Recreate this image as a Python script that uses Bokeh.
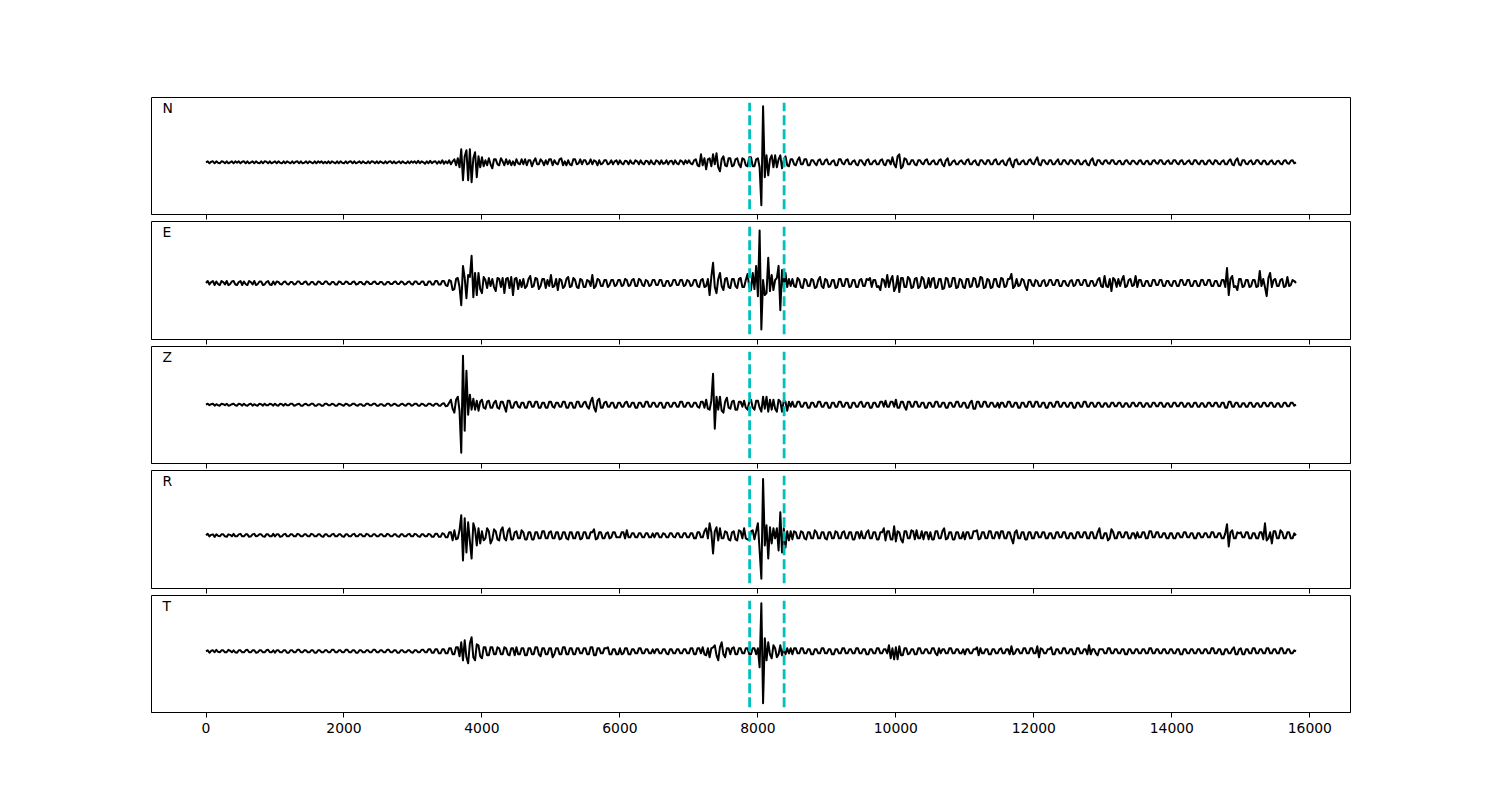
import numpy as np
from bokeh.plotting import figure
from bokeh.layouts import column
from bokeh.models import Range1d, FixedTicker, Label, CustomLabelingPolicy
from bokeh.embed import file_html
from bokeh.resources import INLINE

# ---------------- data ----------------
components = ["N", "E", "Z", "R", "T"]
sample_step = 25                     # time between samples
pick_times = [7880, 8380]            # dashed window markers
tick_values = [0, 2000, 4000, 6000, 8000, 10000, 12000, 14000, 16000]
tick_labels = ["0", "2000", "4000", "6000", "8000", "10000", "12000", "14000", "16000"]

# data limits of each panel (before the 5 % margin)
panel_ymin = [-46.9, -50.7, -53.5, -47.4, -55.9]
panel_ymax = [59.5, 55.7, 52.9, 59.0, 50.5]

# amplitudes, one row = 20 samples = 500 time units
trace_N = [
    0, 1, -1, 0.5, 1, -1, 1, -0.5, -1, 1, 0.5, -1, 1, -1, 0, 1, -1, 1, -0.5, 1,
    -1, 0.5, 1, -1, 1, -1, 0, 1, -1, 1, -0.5, -1, 1, -1, 1, 0.5, -1, 1, -1, 0,
    1, -1, 1, -0.5, -1, 1, -1, 1, 0, -1, 1, -1, 0.5, 1, -1, 1, -1, -0.5, 1, -1,
    1, 0, -1, 1, -1, 1, -0.5, 1, -1, 0.5, -1, 1, -1, 1, 0, -1, 1, -1, 1, -0.5,
    -1, 1, -1, 0.5, 1, -1, 1, -1, 0, 1, -1, 1, -0.5, -1, 1, -1, 1, 0.5, -1, 1,
    -1, 1, 0, -1, 1, -1, 0.5, 1, -1, 1, -1, 0, 1, -1, 1, -0.5, -1, 1, -1, 1,
    -0.5, 1, -1, 1.5, -1, 1, 0, -1.5, 1, -1, 1.5, -1, 0.5, 1, -1.5, 1, -1, 2, -1.5, 1,
    -1, 2, -2, 1, 3, -3, 4, -5, 13, -18, 6, 12, -18, 13, -20, 4, 10, -15, 6, -5,
    5, -4, 2, -3, 4, -2, -6, 3, 3, -2, -3, 4, 1, -3, 3, -2, 2, -3, 1, -3,
    3, -1, -2, 3, -2, 3, -3, 2, 2, -4, 1, 4, -2, -2, 3, 1, -3, 2, -2, 3,
    3, -3, 2, -1, -2, 3, 4, -3, 1, -3, 2, -2, -3, 3, 3, -2, -1, 3, -2, 2,
    2, -2, -1, 3, -2, 2, 1, -3, 2, -2, -1, 2, 2, -2, -1, 2, -2, 1, 2, -2,
    2, -1, -2, 1.5, 1, -2, 2, -1, -1.5, 2, 1, -2, 2, -1, -2, 1.5, 1, -2, 2, -1,
    -2, 2, 1, -2, 2, -1.5, -1, 2, -2, 1, 1.5, -2, 2, -1, -2, 2, 1, -2, 2, -1,
    2, -1, -2, 2, 3, -3, -4, 8, -3, 4, -7, 3, 4, -4, 8, -2, 9, -5, -9, 3,
    6, -3, -4, 4, 4, -4, -3, 3, 4, -2, -5, 4, 3, -3, -4, 5, 5, -4, -4, 3,
    4, -5, -43, 56, -15, 7, -13, 3, 7, -5, 7, -5, 3, 7, -6, 2, 6, -3, -4, 3,
    3, -2, -3, 2, 5, -2, -2, 3, 3, -3, -3, 2, 2, -1, -3, 2, 3, -2, -2, 2,
    3, -2, -2, 1, 2, -3, -3, 3, 3, -1, -2, 2, 3, -2, -2, 1, 2, -2, -3, 2,
    2, -1, -3, 2, 3, -2, -2, 1, 2, -2, -2, 2, 3, -2, -3, 2, 2, -2, 5, -2,
    -5, 6, 8, -6, -4, 4, 3, -2, -2, 2, 2, -2, -3, 2, 2, -1, -2, 2, 3, -2,
    -2, 1, 2, -2, -2, 2, 3, -2, -4, 2, 4, -3, -2, 1, 2, -2, -2, 1, 2, -1,
    -2, 2, 3, -2, -2, 1, 2, -2, -3, 2, 2, -1, -2, 2, 2, -2, -2, 2, 3, -2,
    -2, 1, 2, -2, -3, 2, 4, -2, -5, 2, 3, -2, -2, 1, 2, -2, -2, 2, 3, -1,
    -2, 2, 5, -2, -3, 2, 2, -1, -2, 2, 2, -2, -2, 1, 3, -2, -2, 2, 2, -1,
    -2, 2, 2, -1, -2, 2, 2, -2, -2, 1, 2, -2, -3, 2, 4, -2, -3, 2, 2, -1,
    -2, 1.5, 2, -1, -1.5, 2, 2, -1.5, -2, 1, 1.5, -2, -2, 1.5, 2, -1, -2, 1.5, 1.5, -1,
    -2, 1.5, 2, -1.5, -2, 1, 1.5, -2, -2, 1.5, 2, -1, -1.5, 2, 2, -1.5, -2, 1, 2, -1.5,
    -1.5, 2, 2, -1, -2, 1.5, 2, -2, -1.5, 1, 2, -1.5, -2, 2, 2, -1, -2, 1.5, 1.5, -2,
    -2, 1.5, 2, -1, -2, 2, 1.5, -1.5, -2, 1, 2, -2, -2, 1.5, 3, -2, -3, 2, 4, -2,
    -3, 2, 2, -1.5, -2, 1, 2, -2, -1.5, 2, 2, -1, -2, 1.5, 1.5, -2, -2, 1, 2, -1.5,
    -2, 1, 1.5, -1.5, -2, 1.5, 2, -1, -1.5, 1.5, 2, -1, 0,
]

trace_E = [
    0, 2, -1.5, 1, 2, -2, 1.5, -1, -2, 2, 1, -1.5, 2, -2, -1, 1.5, 2, -1.5, -2, 1,
    2, -2, 1.5, -1, -2, 2, 1, -1.5, 2, -2, -1, 1.5, 1.5, -2, -1.5, 1, 2, -1.5, -2, 1.5,
    -1.5, 1.5, 1, -1, -1.5, 1, 1.5, -1, -1.5, 1, 1, -1.5, -1, 1.5, 1.5, -1, -1, 1, 1.5, -1.5,
    -1.5, 1, 1, -1.5, -1.5, 1.5, 1, -1, -1, 1.5, 1.5, -1, -1.5, 1, 1, -1.5, -1.5, 1.5, 1, -1,
    -1, 1.5, 1, -1, -1, 1, 1.5, -1.5, -1, 1, 1, -1, -1.5, 1.5, 1, -1, -1, 1, 1.5, -1,
    -1, 1, 1, -1.5, -1.5, 1, 1, -1, -1, 1, 1.5, -1, -1, 1.5, 1, -1.5, -1, 1, 1.5, -1,
    -1.5, 1.5, 1.5, -1, -1, 1.5, 1.5, -2, -2, 1.5, 1.5, -1.5, -1.5, 2, 2, -1.5, -1.5, 2, 2, -2,
    -3, 3, 2, -7, -6, 4, 5, -4, -22, 17, 5, -15, 8, 6, 27, -14, 10, -12, 10, -6,
    -10, 6, 3, -5, 5, -3, 4, -4, -8, 5, 4, -4, 5, -10, 4, 5, -5, 6, -12, 4,
    5, -6, 3, -4, 4, -5, -3, 4, 7, -4, -3, 5, 4, -6, -3, 4, 4, -5, 3, -3,
    8, -4, -3, 4, -7, 4, 3, -5, -3, 4, 6, -4, -3, 5, 3, -4, -5, 4, 3, -4,
    -4, 3, 2, -3, 8, -5, -3, 4, 3, -3, -3, 3, 3, -4, -2, 3, 3, -3, -2, 3,
    3, -3, -2, 4, 3, -3, -2, 3, 4, -3, -3, 4, 3, -2, -3, 3, 2, -3, -2, 3,
    3, -2, -2, 3, 3, -3, -3, 2, 2, -3, -2, 3, 3, -2, -2, 3, 3, -3, -2, 3,
    2, -3, -2, 3, 3, -3, -4, 3, 4, -4, -3, 4, -12, 6, 20, -4, -10, 4, 10, -3,
    -7, 4, 5, -4, -5, 4, 4, -3, -5, 4, 5, -4, -4, 3, 9, -4, -7, 10, -6, 17,
    -13, 52, -46, 3, -12, -10, 25, -8, 8, -7, 3, 5, 17, -27, 13, -5, 10, -4, 4, -3,
    4, -3, -4, 5, 3, -4, -5, 4, 3, -3, -3, 4, 3, -5, -4, 3, 6, -3, -5, 4,
    3, -4, -3, 3, 3, -5, -4, 4, 4, -3, -3, 4, 4, -4, -3, 3, 3, -4, -4, 3,
    4, -3, -3, 4, 3, 5, -4, 3, 3, -4, -3, -7, 4, 3, -4, 8, -4, 3, 7, -8,
    -4, 7, -9, 5, 5, -4, -4, 6, 4, -5, -4, 4, 5, -5, -3, 6, 4, -5, -4, 5,
    -4, 4, 5, -5, -4, 4, 4, -6, -5, 5, 4, -4, -3, 5, 5, -5, -4, 4, 3, -4,
    -5, 4, 4, -4, -3, 5, 4, -4, -3, 6, 5, -5, -4, 4, 3, -5, -4, 4, 4, -3,
    -4, 5, 4, -4, -3, 4, 4, 9, -5, -3, 4, -3, -2, 4, 3, -3, -7, 3, 3, -2,
    -3, 3, 2, -3, -3, 2, 3, -3, -2, 3, 3, -2, -2, 3, 3, -3, -3, 2, 2, -2,
    -3, 2, 3, -3, -2, 3, 3, -2, -2, 3, 3, -3, -3, 2, 2, -3, -2, 3, 5, -3,
    -4, 7, -3, -4, 4, -8, 5, 3, -4, 4, -3, 3, 7, -4, -3, 3, 4, -3, -2, 7,
    -4, 3, 3, -3, -3, 2, 2, -3, -3, 3, 3, -2, -2, 3, 3, -3, -3, 2, 2, -2,
    -3, 2, 2, -3, -3, 3, 3, -2, -2, 3, 3, -3, -3, 2, 2, -3, -3, 3, 3, -2,
    -2, 3, 3, -3, -3, 2, 2, -3, -3, 3, 3, -4, 15, -12, 4, 7, -4, -3, -7, 4,
    4, -4, -3, 3, 3, -4, -3, 3, 3, -4, -3, 12, -3, 4, -4, -13, 5, 10, -4, 3,
    4, -3, -3, 3, 4, -4, -3, 6, -3, -2, 3, 2, 0,
]

trace_Z = [
    0, 1, -0.5, 0.5, 1, -1, 0.5, -0.5, -1, 1, 0.5, -0.5, 1, -1, -0.5, 0.5, 1, -0.5, -1, 1,
    0.5, -1, 1, -0.5, -1, 0.5, 1, -1, 0.5, -0.5, -1, 1, 0.5, -1, 1, -0.5, -0.5, 1, 0.5, -1,
    1, -0.5, -1, 1, 0.5, -1, 1, -0.5, -0.5, 1, 1, -1, -0.5, 0.5, 1, -1, -1, 0.5, 1, -0.5,
    -0.5, 1, 1, -1, -1, 0.5, 0.5, -1, -1, 1, 1, -0.5, -0.5, 1, 0.5, -1, -1, 1, 0.5, -0.5,
    -1, 1, 0.5, -1, -0.5, 1, 1, -0.5, -1, 0.5, 0.5, -1, -1, 1, 1, -0.5, -0.5, 1, 1, -1,
    -1, 0.5, 0.5, -1, -1, 1, 1, -1, -0.5, 1, 0.5, -1, -1, 0.5, 1, -0.5, -1, 1, 1, -1,
    -0.5, 1, 1, -1, -1, 1, 0.5, -1, -1, 1, 1, -0.5, -1, 1, 1, -1, -1, 1, 1.5, -1.5,
    -1, 2, 5, -4, -8, 5, 8, -6, -48, 49, -26, 34, -10, 10, -5, 6, -5, 4, -6, 3,
    5, -3, -4, 3, 4, -3, -3, 2, 4, -3, -4, 3, 3, -2, -7, 4, 4, -3, -3, 2,
    3, -2, -3, 2, 2, -3, -3, 3, 3, -2, -2, 3, 3, -3, -3, 2, 2, -3, -3, 3,
    3, -2, -3, 2, 2, -2, -2, 3, 3, -3, -3, 2, 2, -3, -3, 3, 3, -2, -2, 2,
    3, -2, -4, 3, 7, -3, -7, 4, 6, -3, -3, 2, 3, -2, -2, 2, 2, -3, -3, 2,
    2, -2, -2, 2, 3, -2, -2, 2, 2, -3, -3, 2, 2, -2, -2, 3, 3, -2, -2, 2,
    2, -2, -2, 2, 2, -3, -3, 2, 2, -2, -2, 2, 2, -2, -2, 3, 3, -2, -2, 2,
    2, -2, -2, 2, 2, -2, -3, 3, 3, -3, 5, -4, -5, 4, 31, -24, 8, -5, 8, -6,
    -8, 3, 7, -3, -4, 3, 4, -5, -5, 3, 3, -2, 4, -3, -5, 3, 5, -3, -5, 4,
    4, -3, -7, 8, -4, 8, -7, 5, -5, 5, -4, -7, 5, 3, -7, 4, 3, -6, 3, -2,
    3, -2, -2, 3, 3, -2, -2, 2, 2, -3, -3, 2, 2, -2, -2, 3, 3, -2, -2, 2,
    2, -3, -3, 2, 2, -2, -2, 3, 3, -2, -2, 2, 2, -3, -3, 2, 2, -2, -2, 2,
    3, -2, -2, 2, 2, -3, -3, 2, 2, -2, -2, 3, 3, -2, 4, -2, -2, 3, 3, -2,
    5, -3, -3, 3, 3, -2, -5, 3, 3, -2, -2, 3, 3, -2, -2, 2, 2, -3, -3, 2,
    2, -2, -2, 3, 3, -2, -2, 2, 2, -3, -3, 2, 2, -2, -2, 3, 3, -2, -2, 2,
    2, -3, -3, 2, 4, -4, -4, 3, 3, -2, -2, 3, 3, -2, -2, 2, 2, -2, -2, 2,
    -3, 2, 2, -2, -2, 3, 3, -2, -2, 2, 2, -3, -3, 2, 2, -2, -2, 3, 3, -2,
    -2, 3, 3, -2, -2, 2, 2, -3, -3, 2, 2, -2, -2, 3, 3, -2, -2, 2, 2, -2,
    -2, 2, 2, -3, -3, 2, 2, -2, -2, 3, 3, -2, -2, 2, 2, -2, -2, 2, 2, -2,
    -2, 1.5, 1.5, -2, -2, 2, 2, -1.5, -1.5, 2, 2, -2, -2, 1.5, 1.5, -2, -2, 2, 2, -1.5,
    -1.5, 2, 2, -2, -2, 1.5, 1.5, -2, -2, 2, 2, -1.5, -1.5, 2, 2, -2, -2, 1.5, 1.5, -2,
    -2, 2, 2, -1.5, -1.5, 2, 2, -2, -2, 1.5, 1.5, -2, -2, 2, 2, -2, -2, 1.5, 1.5, -2,
    -2, 2, 2, -1.5, -1.5, 2, 2, -2, -2, 2, 2, -3, -3, 3, 3, -2, -2, 2, 2, -2,
    -2, 1.5, 1.5, -2, -2, 2, 2, -2, -2, 1.5, 1.5, -2, -2, 2, 2, -1.5, -1.5, 2, 2, -2,
    -2, 1.5, 1.5, -2, -2, 2, 2, -1.5, -1.5, 2, 2, -1, 0,
]

trace_R = [
    0, 1.5, -1, 0.5, 1, -1.5, 1, -0.5, -1, 1, 1, -1, -1.5, 1, 0.5, -1, 1.5, -1, -1, 1,
    1.5, -1, -1, 1, 1, -1.5, -1, 1, 1.5, -1, -0.5, 1, 1, -1, -1.5, 1, 1, -1, -1, 1.5,
    -1, 1, 1, -1.5, -1, 1, 1.5, -1, -1, 1, 1, -1, -1, 1.5, 1, -1, -1, 1, 1, -1,
    -1, 1.5, 1, -1, -1, 1, 1, -1, -1.5, 1, 1, -1, -1, 1, 1.5, -1, -1, 1, 1, -1,
    -1.5, 1, 1, -1, -1, 1, 1.5, -1, -1, 1, 1, -1, -1, 1.5, 1, -1, -1, 1, 1, -1,
    -1, 1, 1, -1, -1, 1.5, 1, -1, -1, 1, 1, -1, -1.5, 1, 1, -1, -1, 1, 1.5, -1,
    -1, 1.5, 1, -1, -1.5, 1, 1, -1, -1, 1.5, 1, -1.5, -1.5, 1.5, 1.5, -1.5, -1.5, 2, 1.5, -2,
    -2, 3, 3, -5, 5, -4, -3, 5, 20, -25, 17, -17, 13, -6, -23, 12, 6, -10, 7, -8,
    4, -5, -3, 7, 4, -8, -4, 6, 4, -4, -5, 5, 8, -3, -5, 4, 7, -4, -4, 3,
    4, -3, -3, 5, 3, -4, -4, 3, 3, -4, -4, 3, 3, -3, -3, 4, 4, -3, -3, 3,
    4, -3, -3, 3, 3, -4, -3, 3, 3, -3, -4, 3, 3, -3, -3, 3, 3, -4, -3, 3,
    3, -3, -3, 3, 3, 6, -4, -3, 3, 3, -3, -3, 2, 3, -3, -2, 3, 3, -2, -2,
    -2, 3, 3, -3, 5, -2, -2, 2, 2, -2, -2, 2, 2, -2, -2, 2, 2, -2, -2, 2,
    -2, 2, 2, -2, -2, 2, 1.5, -2, -2, 2, 2, -1.5, -2, 2, 2, -2, -2, 2, 2, -2,
    -2, 2, 2, -3, -3, 3, 3, -2, -2, 4, 7, -3, 12, 3, -18, 4, 8, -5, 7, -3,
    -3, 4, 3, -4, -5, 3, 4, -4, -5, 5, 4, -3, 7, -3, -4, -5, 4, 5, -4, 4,
    12, -15, -43, 56, -10, 10, -23, 8, -8, 7, -3, 7, -15, 23, -17, 7, -12, 4, -5, 4,
    -4, 4, 3, -3, -3, 4, 3, -3, -4, 3, 3, -3, -3, 5, 3, -3, -3, 3, 3, -3,
    -4, 3, 3, -3, -3, 4, 3, -3, -3, 3, 4, -3, -3, 3, 3, -4, -4, 3, 3, -3,
    4, -3, -3, 3, 5, -3, -3, 3, 3, -4, -4, 3, 3, 7, -5, 4, 4, -4, -4, 9,
    -6, 4, 3, -4, -7, 4, 4, -3, -3, 5, 4, -4, 5, -3, -3, 4, -4, 3, 3, -4,
    3, -4, -4, 4, 4, -3, -3, 4, 7, -4, -3, 3, 3, -4, -4, 3, 3, -3, -3, 3,
    -4, 3, 3, -3, -3, 4, 4, 5, -4, -3, 3, 3, -3, -3, 4, 4, -3, -3, 3, 3,
    -3, 4, 4, -3, -3, 3, 3, -3, -8, 3, 5, -3, -3, 3, 3, -4, -4, 3, 3, -3,
    -3, 3, 3, -2, -2, 3, 3, -3, -3, 2, 2, -3, -3, 3, 3, -2, -2, 3, 3, -3,
    -3, 2, 2, -3, -3, 3, 3, -2, -2, 3, 3, -3, -3, 3, 3, -3, -3, 3, 7, -3,
    -3, 2, 2, -5, -3, 6, 3, -3, -3, 3, 3, -2, -2, 3, 3, -3, -3, 2, 2, -3,
    3, -2, -2, 3, 3, -3, -3, 4, 4, -2, -2, 3, 3, -2, -2, 2, 2, -3, -3, 2,
    2, -3, -3, 2, 2, -2, -2, 3, 3, -2, -2, 2, 2, -3, -3, 2, 2, -2, -2, 2,
    2, -2, -2, 3, 3, -2, -2, 2, 2, -3, -3, 2, 11, -11, 3, 5, -3, -3, 3, 2,
    3, -2, -2, 3, 3, -3, -3, 2, 2, -3, -3, 3, 3, -4, 12, -5, -3, 3, -8, 4,
    4, -3, -3, 5, 3, -3, -3, 3, 3, -3, -3, 2, 0,
]

trace_T = [
    0, 1, -1.5, 0.5, 1, -1, 1.5, -0.5, -1, 1, 1, -1, -1, 1.5, 0.5, -1, 1, -1, -1.5, 1,
    1, -1, -1, 1, 1.5, -1, -1, 1, 1, -1.5, -1, 1, 1, -1, -1, 1, 1.5, -1, -1, 1,
    -1.5, 1, 1, -1, -1, 1, 1, -1.5, -1.5, 1, 1, -1, -1, 1.5, 1.5, -1, -1, 1, 1, -1,
    -1, 1, 1, -1.5, -1.5, 1, 1, -1, -1, 1, 1, -1, -1, 1.5, 1.5, -1, -1, 1, 1, -1,
    -1, 1.5, 1.5, -1, -1, 1, 1, -1.5, -1.5, 1, 1, -1, -1, 1, 1, -1, -1, 1.5, 1.5, -1,
    -1, 1, 1, -1, -1, 1.5, 1.5, -1, -1, 1, 1, -1.5, -1.5, 1, 1, -1, -1, 1, 1, -1,
    -1.5, 1, 1, -1, -1, 1.5, 1.5, -1, -1, 2, 2, -1.5, -1.5, 2, 2, -2, -2, 2, 2, -2,
    -2, 3, 3, -3, -3, 4, 4, -5, 9, -9, 11, -6, -12, 8, 14, -6, -9, 7, 6, -5,
    -7, 4, 4, -4, -4, 4, 4, -3, -3, 4, 3, -3, -3, 4, 3, -3, -4, 3, 3, -4,
    4, -3, -3, 3, 3, -4, -4, 3, 3, -3, -3, 4, 4, -3, -5, 3, 3, -3, -3, 3,
    3, -6, -3, 3, 3, -3, -3, 4, 4, -3, -3, 3, 3, -3, -3, 3, 3, -2, -2, 3,
    3, -3, -3, 4, 4, -4, -4, 3, 3, -2, -2, 3, 3, 4, -3, -3, 2, 2, -3, -3,
    3, -3, -2, 3, 3, -3, -3, 2, 2, -2, -2, 3, 3, -2, -2, 2, 2, -2, -2, 2,
    -2, 2, 2, -2, -2, 2, 2, -2, -3, 2, 2, -2, -2, 2, 2, -2, -2, 2, 2, -2,
    -2, 3, 3, -3, -3, 3, 3, -2, 4, -3, -4, 3, -6, 3, 4, 6, -4, -9, 4, 9,
    -3, -6, 3, 3, -3, 3, 4, -3, -3, 3, 3, -2, -2, 3, 3, -3, -3, 3, 3, -3,
    3, -16, 48, -52, 13, -9, 9, -3, -7, 6, 3, -6, -3, 6, -4, 3, -3, 3, -2, 3,
    -3, 3, 3, -2, -2, 3, 3, -2, -2, 2, 2, -3, -3, 2, 2, -2, -2, 3, 3, -2,
    -2, 2, 2, -3, -3, 2, 2, -2, -2, 3, 3, -2, -2, 2, 2, -2, -2, 3, 3, -2,
    -2, 2, 2, -3, -3, 2, 2, -2, -2, 3, 3, -2, -2, 2, 2, -2, 6, -7, 3, -8,
    4, -8, 5, -4, -4, 3, 3, -3, -2, 2, 2, -3, -3, 3, 3, -2, -2, 2, 2, -2,
    -2, 3, 3, -2, -4, 3, -2, 2, 2, -2, -2, 3, 3, -2, -2, 2, 2, -2, -2, 2,
    -3, 2, 2, -2, -2, 2, 2, 4, -4, 3, -2, -2, 2, 2, -3, -3, 2, 2, -2, -2,
    2, 3, -2, -2, 2, 2, -3, 5, -3, -2, 2, 2, -2, -2, 3, 3, -2, -2, 3, 3,
    -2, -2, 5, -6, 3, 2, -2, -2, 2, 2, 4, -3, -3, 2, 2, -2, -2, 3, 3, -2,
    -2, 2, 2, -3, -3, 3, 3, -2, -2, 2, 2, -3, 6, -3, 2, 2, -2, -4, 2, 2,
    2, -2, -2, 3, 3, -2, -2, 2, 2, -2, -2, 2, 2, -3, -3, 2, 2, -2, -2, 2,
    2, -2, -2, 2, 2, -2, -2, 3, 3, -2, -2, 2, 2, -2, -2, 2, 2, -2, -2, 2,
    2, -2, -2, 2, 2, -3, -3, 2, 2, -2, -2, 2, 2, -2, -2, 2, 2, -2, -2, 2,
    2, -2, -2, 3, 3, -2, -2, 2, 2, -3, -3, 2, 2, -2, -2, 2, 4, -3, -3, 2,
    3, -3, -3, 2, 2, -2, -2, 3, 3, -2, -2, 2, 2, -2, -2, 3, 3, -2, -2, 2,
    2, -2, -2, 3, 3, -2, -2, 2, 2, -2, -2, 1, 0,
]

traces = [trace_N, trace_E, trace_Z, trace_R, trace_T]

# ---------------- layout / style ----------------
FONT = "DejaVu Sans"
FS = "13.9px"
frame_heights = [117, 118, 117, 118, 117]
n = len(components)

figs = []
for i in range(n):
    tr = np.asarray(traces[i], dtype=float)
    t = np.arange(len(tr)) * sample_step
    xpad = 0.05 * (t.max() - t.min())
    ylo, yhi = panel_ymin[i], panel_ymax[i]
    ypad = 0.05 * (yhi - ylo)
    last = (i == n - 1)

    p = figure(
        frame_width=1199, frame_height=frame_heights[i],
        x_range=Range1d(t.min() - xpad, t.max() + xpad),
        y_range=Range1d(ylo - ypad, yhi + ypad),
        output_backend="svg", toolbar_location=None, tools="",
        y_axis_location=None, title=None,
        min_border_left=151, min_border_right=142,
        min_border_top=97 if i == 0 else 0,
        min_border_bottom=60 if last else 7,
        background_fill_color="white", border_fill_color="white",
    )
    p.grid.grid_line_color = None
    p.outline_line_color = "black"
    p.outline_line_width = 1
    p.outline_line_alpha = 1

    ax = p.xaxis[0]
    ax.ticker = FixedTicker(ticks=tick_values, minor_ticks=[])
    ax.major_label_overrides = {v: s for v, s in zip(tick_values, tick_labels)}
    ax.axis_line_color = "black"
    ax.major_tick_line_color = "black"
    ax.major_tick_out = 5
    ax.major_tick_in = 0
    ax.minor_tick_out = 0
    ax.minor_tick_in = 0
    ax.major_label_text_font = FONT
    ax.major_label_text_color = "black"
    if last:
        ax.major_label_text_font_size = FS
        ax.major_label_standoff = 5
    else:
        # shared x axis: tick marks only, labels not drawn
        ax.major_label_text_font_size = "0px"
        ax.major_label_standoff = 0
        ax.major_label_policy = CustomLabelingPolicy(code="return []")

    p.line(t, tr, line_color="black", line_width=2, line_join="round")
    p.segment(x0=pick_times, y0=[ylo] * len(pick_times),
              x1=pick_times, y1=[yhi] * len(pick_times),
              line_color="#00BFBF", line_width=2.8, line_dash="10 4")

    p.add_layout(Label(x=11, y=frame_heights[i] - 10, x_units="screen", y_units="screen",
                       text=components[i], text_font=FONT, text_font_size=FS,
                       text_color="black", text_baseline="alphabetic"))
    figs.append(p)

layout = column(*figs, spacing=0)
open("out.html", "w").write(file_html(layout, INLINE, title="Seismogram components"))
